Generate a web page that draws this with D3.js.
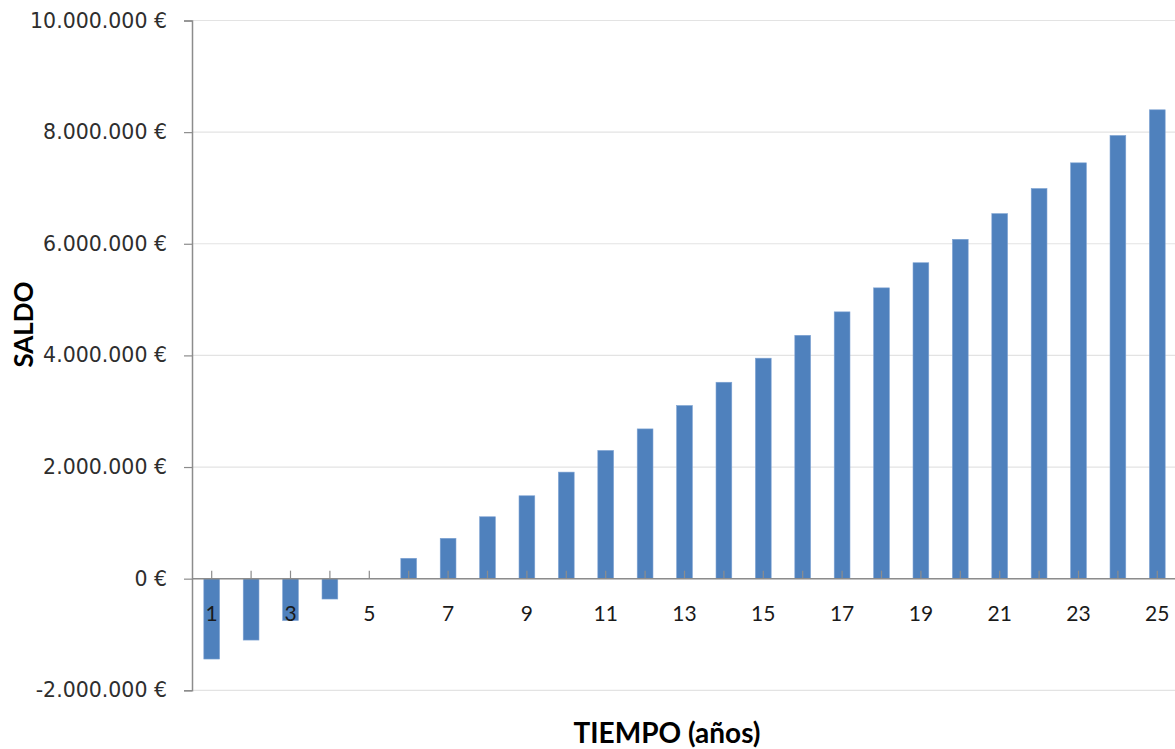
<!DOCTYPE html>
<html>
<head>
<meta charset="utf-8">
<script src="https://cdn.jsdelivr.net/npm/d3@7"></script>
<style>
  html, body { margin: 0; padding: 0; background: #fff; }
  svg { display: block; }
</style>
</head>
<body>
<svg id="chart" width="1175" height="749"></svg>
<script>
// Saldo acumulado por año (euros)
const years = d3.range(1, 26);
const saldo = [
  -1440000, -1100000, -750000, -365000, 0,
   365000,   723000, 1109000, 1485000, 1909000,
  2297000,  2683000, 3102000, 3519000, 3950000,
  4360000,  4780000, 5210000, 5660000, 6080000,
  6540000,  6990000, 7450000, 7940000, 8400000
];
const yTicks = [-2000000, 0, 2000000, 4000000, 6000000, 8000000, 10000000];
const xTitle = "TIEMPO (años)";
const yTitle = "SALDO";

const svg = d3.select("#chart");
const plotLeft = 192, plotRight = 1177, plotTop = 20.5, plotBottom = 690.3;

const x = d3.scaleBand()
  .domain(years)
  .range([plotLeft, plotRight])
  .paddingInner(0.6)
  .paddingOuter(0.3);

const y = d3.scaleLinear()
  .domain([-2000000, 10000000])
  .range([plotBottom, plotTop]);

const es = d3.formatLocale({
  decimal: ",",
  thousands: ".",
  grouping: [3],
  currency: ["", " €"],
  minus: "-"
});
const euro = es.format("$,.0f");

// horizontal gridlines
svg.append("g")
  .selectAll("line")
  .data(yTicks)
  .join("line")
  .attr("x1", plotLeft)
  .attr("x2", 1175)
  .attr("y1", d => y(d))
  .attr("y2", d => y(d))
  .attr("stroke", "#e3e3e3")
  .attr("stroke-width", 1.2);

// bars
svg.append("g")
  .selectAll("rect")
  .data(years.map((yr, i) => ({ yr, v: saldo[i] })))
  .join("rect")
  .attr("x", d => x(d.yr))
  .attr("width", x.bandwidth())
  .attr("y", d => y(Math.max(0, d.v)))
  .attr("height", d => Math.abs(y(d.v) - y(0)))
  .attr("fill", "#4f81bd")
  .attr("stroke", "#7ea3d3")
  .attr("stroke-width", 0.6);

// y axis
const yAxis = svg.append("g")
  .attr("transform", `translate(${plotLeft},0)`)
  .call(d3.axisLeft(y).tickValues(yTicks).tickFormat(euro).tickSize(8).tickPadding(17));
yAxis.select(".domain").attr("stroke", "#8c8c8c").attr("stroke-width", 1.5);
yAxis.selectAll(".tick line").attr("stroke", "#8c8c8c").attr("stroke-width", 1.2);
yAxis.selectAll(".tick text")
  .attr("font-family", "'DejaVu Sans', sans-serif")
  .attr("font-size", 20.5)
  .attr("fill", "#2e2e2e");

// x axis along zero line
const xAxis = svg.append("g")
  .attr("transform", `translate(0,${y(0)})`)
  .call(d3.axisBottom(x)
    .tickSize(-8)
    .tickPadding(27)
    .tickFormat(d => (d % 2 === 1 ? d : "")));
xAxis.select(".domain").attr("stroke", "#8c8c8c").attr("stroke-width", 1.5)
  .attr("d", `M${plotLeft},0H1175`);
xAxis.selectAll(".tick line").attr("stroke", "#8c8c8c").attr("stroke-width", 1.2);
xAxis.selectAll(".tick text")
  .attr("font-family", "Lato, 'Open Sans', sans-serif")
  .attr("font-size", 21)
  .attr("fill", "#1a1a1a");

// axis titles
svg.append("text")
  .attr("x", 667)
  .attr("y", 743)
  .attr("text-anchor", "middle")
  .attr("font-family", "Lato, 'Open Sans', sans-serif")
  .attr("font-weight", "bold")
  .attr("font-size", 28)
  .attr("fill", "#000")
  .text(xTitle);

svg.append("text")
  .attr("transform", "translate(33,324.5) rotate(-90)")
  .attr("text-anchor", "middle")
  .attr("font-family", "Lato, 'Open Sans', sans-serif")
  .attr("font-weight", "bold")
  .attr("font-size", 26)
  .attr("fill", "#000")
  .text(yTitle);
</script>
</body>
</html>
